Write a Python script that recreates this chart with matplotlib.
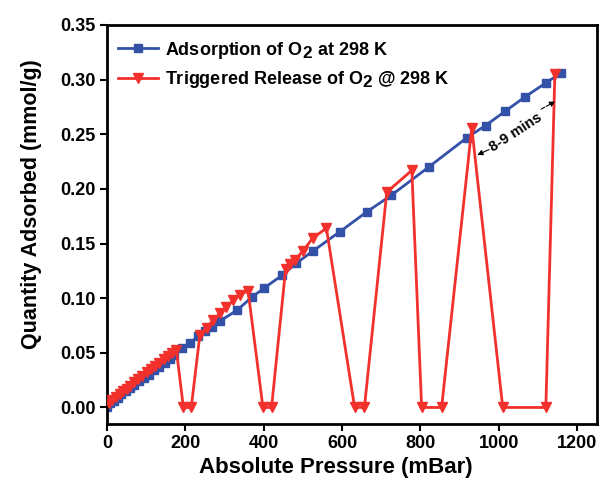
import matplotlib
matplotlib.use("Agg")
import matplotlib.pyplot as plt

try:
    import matplotlib._mathtext as _mt
    _mt.SHRINK_FACTOR = 0.95
except Exception:
    pass

plt.rcParams['font.family'] = ['Liberation Sans', 'DejaVu Sans']
plt.rcParams['font.weight'] = 'bold'
plt.rcParams['mathtext.fontset'] = 'custom'
plt.rcParams['mathtext.rm'] = 'Liberation Sans:bold'
plt.rcParams['mathtext.it'] = 'Liberation Sans:bold'
plt.rcParams['mathtext.bf'] = 'Liberation Sans:bold'

# Adsorption of O2 at 298 K
ads_p = [0, 8, 17, 27, 37, 48, 58, 70, 82, 95, 108, 120, 133, 147, 160, 172,
         192, 211, 232, 250, 268, 288, 332, 370, 400, 447, 483, 525, 595, 663,
         725, 821, 919, 966, 1016, 1066, 1120, 1158]
ads_q = [0.000, 0.004, 0.006, 0.009, 0.012, 0.015, 0.018, 0.021, 0.024, 0.027,
         0.030, 0.034, 0.037, 0.041, 0.044, 0.048, 0.054, 0.059, 0.065, 0.070,
         0.074, 0.079, 0.089, 0.101, 0.109, 0.121, 0.132, 0.143, 0.161, 0.179,
         0.194, 0.220, 0.247, 0.258, 0.271, 0.284, 0.297, 0.306]

# Triggered release of O2 at 298 K
rel_p = [5, 14, 23, 32, 41, 50, 60, 70, 80, 90, 101, 112, 123, 134, 145, 156,
         167, 177, 195, 215, 237, 254, 271, 288, 305, 322, 340, 360, 398, 420,
         456, 467, 479, 500, 525, 560, 632, 657, 714, 778, 803, 854, 931, 1010,
         1120, 1143]
rel_q = [0.004, 0.007, 0.010, 0.012, 0.015, 0.017, 0.020, 0.023, 0.026, 0.029,
         0.032, 0.035, 0.038, 0.041, 0.044, 0.047, 0.050, 0.053, 0.000, 0.000,
         0.066, 0.073, 0.080, 0.086, 0.092, 0.098, 0.103, 0.107, 0.000, 0.000,
         0.127, 0.131, 0.135, 0.143, 0.155, 0.164, 0.000, 0.000, 0.197, 0.217,
         0.000, 0.000, 0.256, 0.000, 0.000, 0.305]

x_ticks = [0, 200, 400, 600, 800, 1000, 1200]
y_ticks = [0.00, 0.05, 0.10, 0.15, 0.20, 0.25, 0.30, 0.35]

fig = plt.figure(figsize=(6.01, 4.90), dpi=100)
ax = fig.add_axes([0.178, 0.135, 0.815, 0.814])

blue = '#3451a8'
red = '#f2302c'
ax.plot(ads_p, ads_q, color=blue, lw=2, marker='s', ms=5.5,
        label=r'Adsorption of O$_2$ at 298 K', zorder=2)
ax.plot(rel_p, rel_q, color=red, lw=2, marker='v', ms=7.5,
        label=r'Triggered Release of O$_2$ @ 298 K', zorder=3)

ax.set_xlim(0, 1250)
ax.set_ylim(-0.015, 0.35)
ax.set_xticks(x_ticks)
ax.set_yticks(y_ticks)
ax.set_yticklabels([f'{v:.2f}' for v in y_ticks])
ax.tick_params(direction='out', length=5, width=1.5, labelsize=13, pad=3)
for s in ax.spines.values():
    s.set_linewidth(2)

ax.set_xlabel('Absolute Pressure (mBar)', fontsize=16, fontweight='bold')
ax.set_ylabel('Quantity Adsorbed (mmol/g)', fontsize=15.5, fontweight='bold')
ax.xaxis.set_label_coords(0.467, -0.083)
ax.yaxis.set_label_coords(-0.132, 0.55)

leg = ax.legend(loc='upper left', frameon=False, fontsize=13,
                handlelength=2.2, handletextpad=0.4, borderaxespad=0.2,
                labelspacing=0.45, bbox_to_anchor=(0.0, 0.99))

ax.text(1042, 0.252, '8-9 mins', rotation=33, fontsize=10.5, fontweight='bold',
        ha='center', va='center')
ax.annotate('', xy=(945, 0.231), xytext=(975, 0.236),
            arrowprops=dict(arrowstyle='-|>', color='black', lw=0.8,
                            mutation_scale=8, shrinkA=0, shrinkB=0))
ax.annotate('', xy=(1144, 0.280), xytext=(1108, 0.273),
            arrowprops=dict(arrowstyle='-|>', color='black', lw=0.8,
                            linestyle='--', mutation_scale=8, shrinkA=0, shrinkB=0))

fig.savefig('out.png', dpi=100)
